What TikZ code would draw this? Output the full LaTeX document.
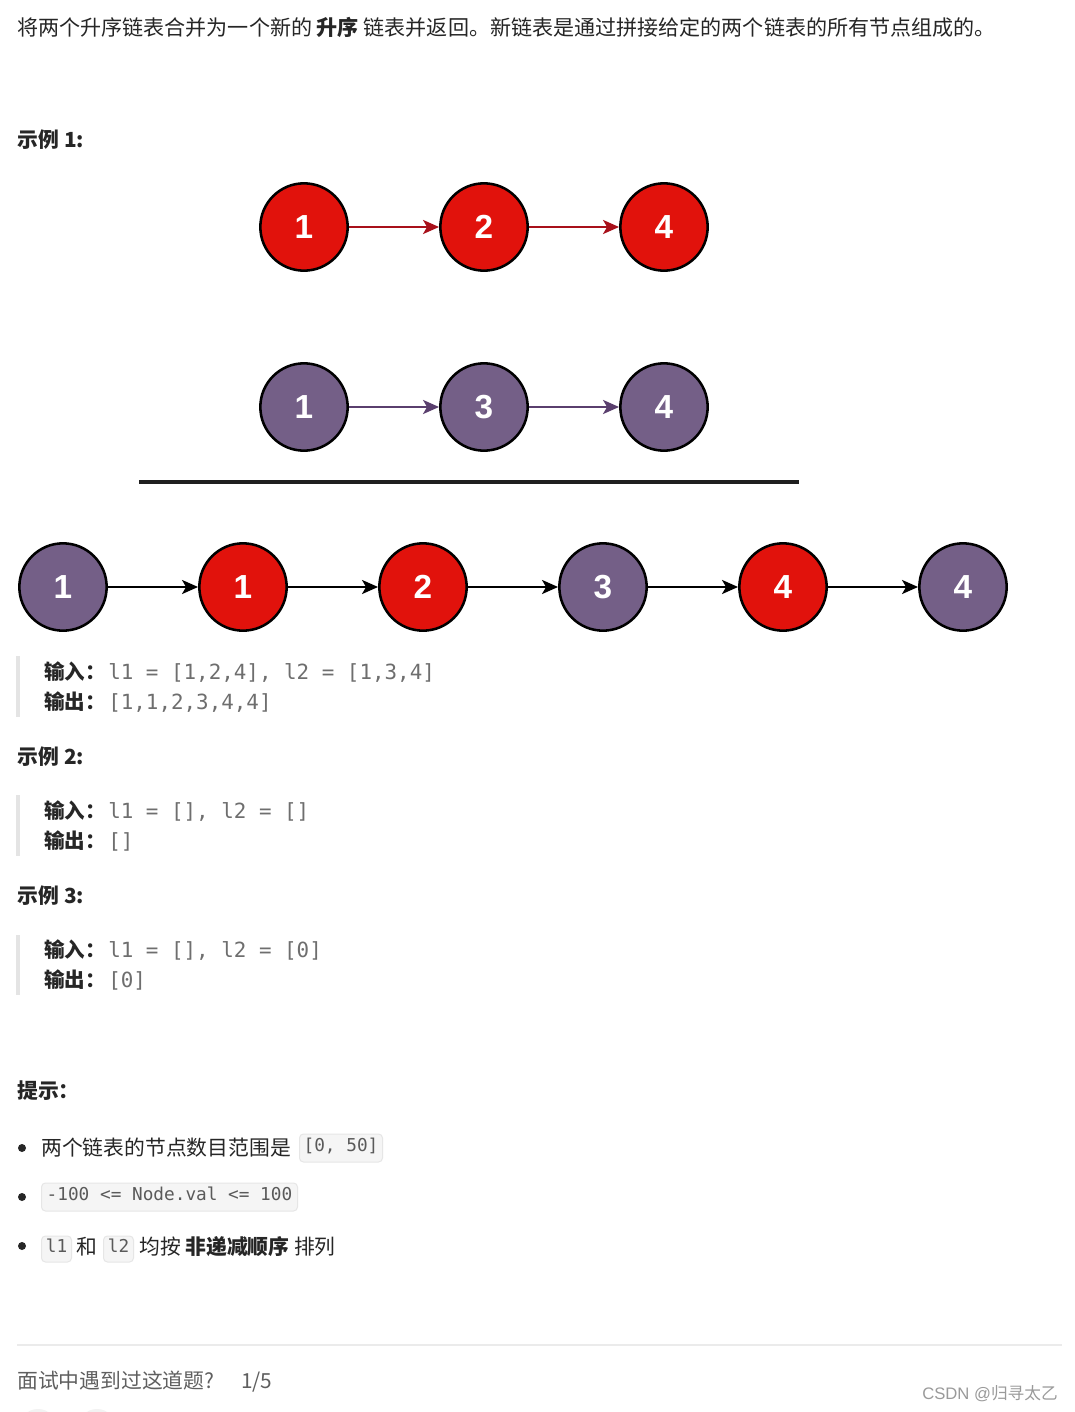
\documentclass[tikz,border=0pt]{standalone}
\usepackage{fontspec}
\usetikzlibrary{arrows.meta}
\newfontfamily\cjk{Noto Sans CJK SC}
\newfontfamily\digitfont{Liberation Sans}
\newfontfamily\codefont{DejaVu Sans Mono}
\definecolor{nodered}{HTML}{E1120C}
\definecolor{nodepurple}{HTML}{745F87}
\definecolor{arrowred}{HTML}{A8101A}
\definecolor{arrowpurple}{HTML}{5A3F6E}
\definecolor{textc}{HTML}{262626}
\definecolor{codec}{HTML}{6E6E6E}
\definecolor{icodec}{HTML}{5A5A5A}
\definecolor{quotebar}{HTML}{E4E4E4}
\definecolor{boxfill}{HTML}{F5F5F5}
\definecolor{boxline}{HTML}{E6E6E6}
\definecolor{footc}{HTML}{5F5F5F}
\definecolor{markc}{HTML}{9A9A9A}
\tikzset{
  listnode/.style={circle, draw=black, line width=1.9pt, minimum size=65.5pt, inner sep=0pt,
    text=white, font=\digitfont\bfseries\fontsize{25}{25}\selectfont},
  rednode/.style={listnode, fill=nodered},
  purplenode/.style={listnode, fill=nodepurple},
  linkarrow/.style={line width=1.7pt, -{Stealth[length=12pt,width=10.5pt,inset=3pt]}},
  txt/.style={anchor=base west, inner sep=0pt, text=textc, font=\cjk\fontsize{15.6}{18}\selectfont},
  introtxt/.style={txt, font=\cjk\fontsize{15.8}{18}\selectfont},
  boldtxt/.style={txt, font=\cjk\bfseries\fontsize{15.6}{18}\selectfont},
  labeltxt/.style={txt, font=\cjk\bfseries\fontsize{15.4}{18}\selectfont},
  codetxt/.style={anchor=base west, inner sep=0pt, text=codec, font=\codefont\fontsize{15.65}{18}\selectfont},
  codebox/.style={anchor=west, draw=boxline, fill=boxfill, rounded corners=3pt, line width=0.75pt,
    minimum height=21pt, inner sep=0pt, text=icodec, text height=0.72em, text depth=0.18em,
    font=\codefont\fontsize{13.3}{15}\selectfont},
  bar/.style={draw=quotebar, line width=2.3pt},
  bulletdot/.style={circle, fill=textc, minimum size=6pt, inner sep=0pt}
}
\begin{document}
\begin{tikzpicture}[x=0.75pt,y=-0.75pt]
\useasboundingbox (0,0) rectangle (1074,1412);
\clip (0,0) rectangle (1074,1412);
\fill[white] (0,0) rectangle (1074,1412);

% intro
\node[introtxt] (intro1) at (17,36) {将两个升序链表合并为一个新的 \textbf{升序} 链表并返回。新链表是通过拼接给定的两个链表的所有节点组成的。};

% example 1 heading
\node[boldtxt] (ex1) at (17,148) {示例\hspace{4pt}1:};

% list 1
\node[rednode] (a1) at (304,227) {1};
\node[rednode] (a2) at (484,227) {2};
\node[rednode] (a3) at (664,227) {4};
\draw[linkarrow, arrowred] (a1) -- (a2);
\draw[linkarrow, arrowred] (a2) -- (a3);

% list 2
\node[purplenode] (b1) at (304,407) {1};
\node[purplenode] (b2) at (484,407) {3};
\node[purplenode] (b3) at (664,407) {4};
\draw[linkarrow, arrowpurple] (b1) -- (b2);
\draw[linkarrow, arrowpurple] (b2) -- (b3);

% separator
\coordinate (sepL) at (139,482);
\coordinate (sepR) at (799,482);
\draw[line width=2.3pt, black!88] (sepL) -- (sepR);

% merged list
\node[purplenode] (c1) at (63,587) {1};
\node[rednode] (c2) at (243,587) {1};
\node[rednode] (c3) at (423,587) {2};
\node[purplenode] (c4) at (603,587) {3};
\node[rednode] (c5) at (783,587) {4};
\node[purplenode] (c6) at (963,587) {4};
\foreach \p/\q in {c1/c2,c2/c3,c3/c4,c4/c5,c5/c6}
  \draw[linkarrow, black] (\p) -- (\q);

% example 1 block
\coordinate (q1t) at (18,656);
\coordinate (q1b) at (18,717);
\draw[bar] (q1t) -- (q1b);
\node[labeltxt] (in1) at (44,679) {输入：};
\node[codetxt] (in1c) at (108,679) {l1 = [1,2,4], l2 = [1,3,4]};
\node[labeltxt] (out1) at (44,709) {输出：};
\node[codetxt] (out1c) at (108,709) {[1,1,2,3,4,4]};

% example 2
\node[boldtxt] (ex2) at (17,764) {示例\hspace{4pt}2:};
\coordinate (q2t) at (18,795);
\coordinate (q2b) at (18,856);
\draw[bar] (q2t) -- (q2b);
\node[labeltxt] (in2) at (44,818) {输入：};
\node[codetxt] (in2c) at (108,818) {l1 = [], l2 = []};
\node[labeltxt] (out2) at (44,848) {输出：};
\node[codetxt] (out2c) at (108,848) {[]};

% example 3
\node[boldtxt] (ex3) at (17,903) {示例\hspace{4pt}3:};
\coordinate (q3t) at (18,935);
\coordinate (q3b) at (18,995);
\draw[bar] (q3t) -- (q3b);
\node[labeltxt] (in3) at (44,957) {输入：};
\node[codetxt] (in3c) at (108,957) {l1 = [], l2 = [0]};
\node[labeltxt] (out3) at (44,987) {输出：};
\node[codetxt] (out3c) at (108,987) {[0]};

% hints
\node[boldtxt] (hint) at (17,1098) {提示：};

\node[bulletdot] (d1) at (22,1148) {};
\node[txt] (h1) at (41,1155) {两个链表的节点数目范围是};
\node[codebox, minimum width=62.25pt] (h1c) at (299,1148) {[0, 50]};

\node[bulletdot] (d2) at (22,1197) {};
\node[codebox, minimum width=192pt] (h2c) at (41,1197) {-100 <= Node.val <= 100};

\node[bulletdot] (d3) at (22,1246) {};
\node[codebox, minimum width=22.5pt, minimum height=19.5pt] (h3a) at (41,1249) {l1};
\node[txt] (h3b) at (76,1254) {和};
\node[codebox, minimum width=22.5pt, minimum height=19.5pt] (h3c) at (103,1249) {l2};
\node[txt] (h3d) at (139,1254) {均按 \textbf{非递减顺序} 排列};

% footer
\coordinate (fl) at (17,1345);
\coordinate (fr) at (1062,1345);
\draw[line width=0.9pt, black!8] (fl) -- (fr);
\node[txt, text=footc] (foot1) at (17,1388) {面试中遇到过这道题?};
\node[txt, text=footc] (foot2) at (241,1388) {1/5};
\node[anchor=base east, inner sep=0pt, text=markc, font=\fontspec{Liberation Sans}\fontsize{12.5}{14}\selectfont] (mark) at (1058,1399) {CSDN @{\cjk 归寻太乙}};

% partially visible buttons at the bottom edge
\fill[black!5] (38,1428) circle (19);
\fill[black!5] (97,1428) circle (19);
\end{tikzpicture}
\end{document}
